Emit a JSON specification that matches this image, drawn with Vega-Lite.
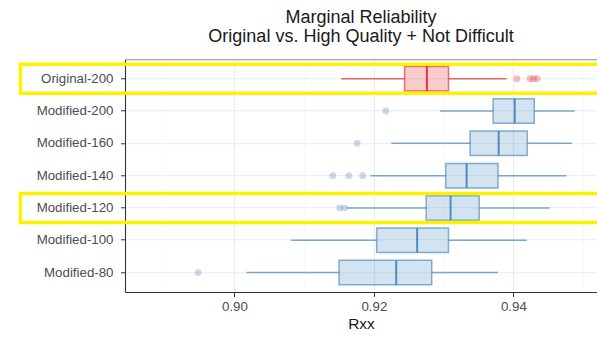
{
  "$schema": "https://vega.github.io/schema/vega-lite/v6.json",
  "autosize": {"type": "none"},
  "width": 472,
  "height": 232.7,
  "padding": {"left": 125, "top": 59.3, "right": 0, "bottom": 48},
  "background": "white",
  "config": {
    "font": "Liberation Sans",
    "view": {"stroke": null}
  },
  "title": {
    "text": ["Marginal Reliability", "Original vs. High Quality + Not Difficult"],
    "fontSize": 18,
    "fontWeight": "normal",
    "color": "#1A1A1A",
    "anchor": "middle",
    "frame": "group",
    "offset": 13,
    "lineHeight": 19
  },
  "datasets": {
    "boxes": [
      {"group": "Original-200", "type": "orig", "lower": 0.9153, "q1": 0.9244, "median": 0.9276, "q3": 0.9307, "upper": 0.9390},
      {"group": "Modified-200", "type": "mod", "lower": 0.9295, "q1": 0.9371, "median": 0.9402, "q3": 0.9430, "upper": 0.9488},
      {"group": "Modified-160", "type": "mod", "lower": 0.9225, "q1": 0.9338, "median": 0.9379, "q3": 0.9420, "upper": 0.9484},
      {"group": "Modified-140", "type": "mod", "lower": 0.9195, "q1": 0.9303, "median": 0.9333, "q3": 0.9378, "upper": 0.9476},
      {"group": "Modified-120", "type": "mod", "lower": 0.9161, "q1": 0.9275, "median": 0.9310, "q3": 0.9351, "upper": 0.9452},
      {"group": "Modified-100", "type": "mod", "lower": 0.9081, "q1": 0.9204, "median": 0.9262, "q3": 0.9307, "upper": 0.9419},
      {"group": "Modified-80", "type": "mod", "lower": 0.9017, "q1": 0.9150, "median": 0.9232, "q3": 0.9283, "upper": 0.9378}
    ],
    "outliers": [
      {"group": "Original-200", "type": "orig", "value": 0.9405},
      {"group": "Original-200", "type": "orig", "value": 0.9424},
      {"group": "Original-200", "type": "orig", "value": 0.9429},
      {"group": "Original-200", "type": "orig", "value": 0.9434},
      {"group": "Modified-200", "type": "mod", "value": 0.9217},
      {"group": "Modified-160", "type": "mod", "value": 0.9176},
      {"group": "Modified-140", "type": "mod", "value": 0.9141},
      {"group": "Modified-140", "type": "mod", "value": 0.9164},
      {"group": "Modified-140", "type": "mod", "value": 0.9184},
      {"group": "Modified-120", "type": "mod", "value": 0.9151},
      {"group": "Modified-120", "type": "mod", "value": 0.9158},
      {"group": "Modified-80", "type": "mod", "value": 0.8948}
    ],
    "highlights": [
      {"group": "Original-200"},
      {"group": "Modified-120"}
    ]
  },
  "resolve": {"axis": {"x": "independent"}},
  "layer": [
    {
      "data": {"name": "boxes"},
      "mark": {"type": "rule", "strokeWidth": 1.5, "strokeOpacity": 0.65},
      "encoding": {
        "x": {
          "field": "lower", "type": "quantitative",
          "scale": {"domain": [0.8843, 0.952], "nice": false, "zero": false},
          "axis": {
            "orient": "bottom",
            "values": [0.89, 0.90, 0.91, 0.92, 0.93, 0.94, 0.95],
            "labelExpr": "round(datum.value*100) % 2 == 0 ? format(datum.value, '.2f') : ''",
            "grid": true,
            "gridColor": {"condition": {"test": "round(datum.value*100) % 2 == 0", "value": "#EBEBEB"}, "value": "#F5F5F5"},
            "gridWidth": {"condition": {"test": "round(datum.value*100) % 2 == 0", "value": 1.1}, "value": 0.6},
            "tickOpacity": {"condition": {"test": "round(datum.value*100) % 2 == 0", "value": 1}, "value": 0},
            "tickColor": "#333333",
            "tickSize": 4.5,
            "domainColor": "#333333",
            "domainWidth": 1.1,
            "labelFontSize": 13.3,
            "labelColor": "#4D4D4D",
            "labelPadding": 3,
            "title": "Rxx",
            "titleFontSize": 15.5,
            "titleFontWeight": "normal",
            "titleColor": "#1A1A1A",
            "titlePadding": 4
          }
        },
        "x2": {"field": "q1"},
        "y": {
          "field": "group", "type": "nominal",
          "sort": ["Original-200", "Modified-200", "Modified-160", "Modified-140", "Modified-120", "Modified-100", "Modified-80"],
          "scale": {"type": "band", "paddingInner": 0, "paddingOuter": 0.1},
          "axis": {
            "title": null,
            "bandPosition": 0.5,
            "grid": true,
            "gridColor": "#EBEBEB",
            "gridWidth": 1.1,
            "domainColor": "#333333",
            "domainWidth": 1.1,
            "tickColor": "#333333",
            "tickSize": 4.5,
            "labelPadding": 7.5,
            "labelFontSize": 13.3,
            "labelColor": "#4D4D4D"
          }
        },
        "color": {
          "field": "type", "type": "nominal",
          "scale": {"domain": ["orig", "mod"], "range": ["#E41A1C", "#377EB8"]},
          "legend": null
        }
      }
    },
    {
      "data": {"name": "boxes"},
      "mark": {"type": "rule", "strokeWidth": 1.5, "strokeOpacity": 0.65},
      "encoding": {
        "x": {"field": "q3", "type": "quantitative", "axis": null},
        "x2": {"field": "upper"},
        "y": {"field": "group", "type": "nominal", "sort": ["Original-200", "Modified-200", "Modified-160", "Modified-140", "Modified-120", "Modified-100", "Modified-80"]},
        "color": {"field": "type", "type": "nominal", "legend": null}
      }
    },
    {
      "data": {"name": "boxes"},
      "mark": {"type": "bar", "size": 24.5, "fillOpacity": 0.22, "strokeOpacity": 0.6, "strokeWidth": 1.5},
      "encoding": {
        "x": {"field": "q1", "type": "quantitative", "axis": null},
        "x2": {"field": "q3"},
        "y": {"field": "group", "type": "nominal", "sort": ["Original-200", "Modified-200", "Modified-160", "Modified-140", "Modified-120", "Modified-100", "Modified-80"]},
        "fill": {"field": "type", "type": "nominal", "scale": {"domain": ["orig", "mod"], "range": ["#E41A1C", "#377EB8"]}, "legend": null},
        "stroke": {"field": "type", "type": "nominal", "scale": {"domain": ["orig", "mod"], "range": ["#E41A1C", "#377EB8"]}, "legend": null}
      }
    },
    {
      "data": {"name": "boxes"},
      "mark": {"type": "tick", "size": 24.5, "thickness": 2, "opacity": 0.85},
      "encoding": {
        "x": {"field": "median", "type": "quantitative", "axis": null},
        "y": {"field": "group", "type": "nominal", "sort": ["Original-200", "Modified-200", "Modified-160", "Modified-140", "Modified-120", "Modified-100", "Modified-80"]},
        "color": {"field": "type", "type": "nominal", "legend": null}
      }
    },
    {
      "data": {"name": "outliers"},
      "mark": {"type": "circle", "size": 48, "opacity": 0.28},
      "encoding": {
        "x": {
          "field": "value", "type": "quantitative",
          "axis": {"orient": "top", "labels": false, "ticks": false, "grid": false, "domainColor": "#8C8C8C", "domainWidth": 1.1, "title": null}
        },
        "y": {"field": "group", "type": "nominal", "sort": ["Original-200", "Modified-200", "Modified-160", "Modified-140", "Modified-120", "Modified-100", "Modified-80"]},
        "color": {"field": "type", "type": "nominal", "legend": null}
      }
    },
    {
      "data": {"name": "highlights"},
      "mark": {"type": "bar", "size": 29, "fill": null, "fillOpacity": 0, "stroke": "#FFF200", "strokeWidth": 3.4},
      "encoding": {
        "x": {"datum": 0.8693, "type": "quantitative", "axis": null},
        "x2": {"datum": 0.96},
        "y": {"field": "group", "type": "nominal", "sort": ["Original-200", "Modified-200", "Modified-160", "Modified-140", "Modified-120", "Modified-100", "Modified-80"]}
      }
    }
  ]
}
